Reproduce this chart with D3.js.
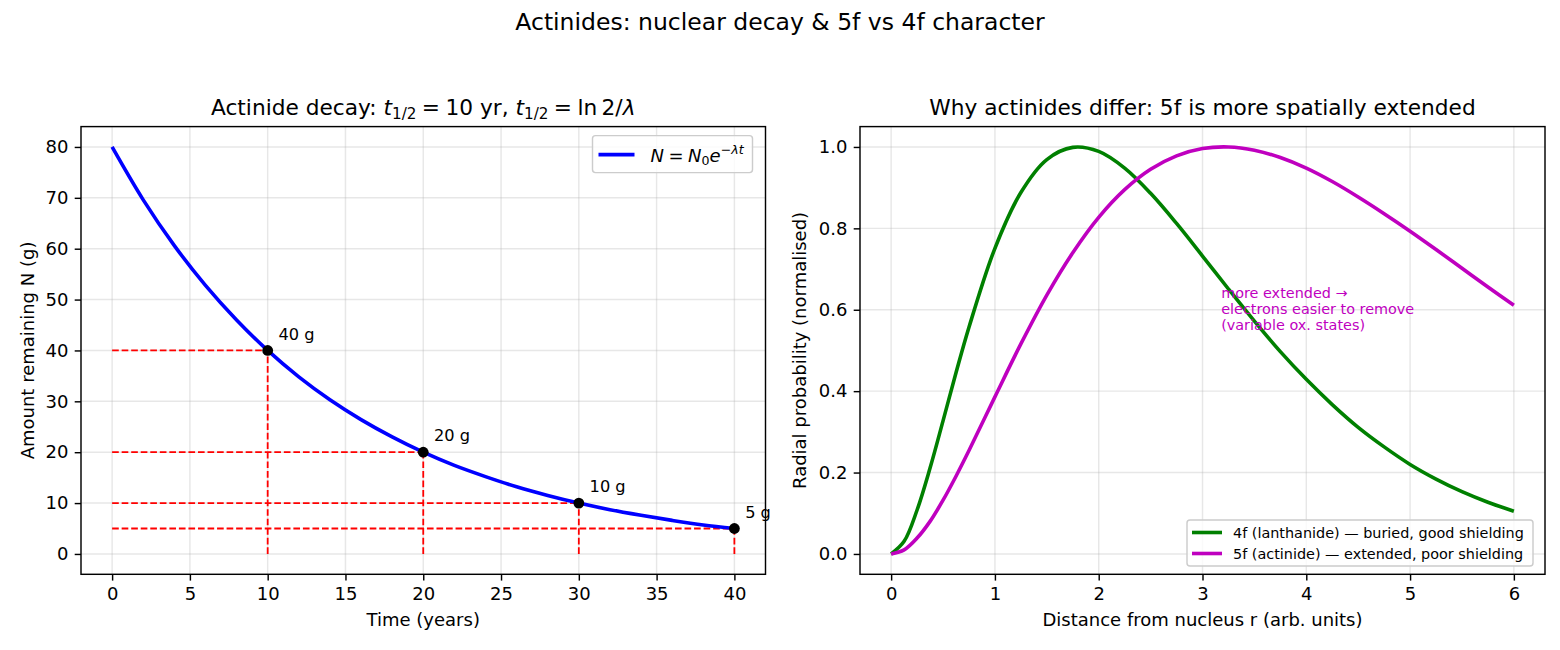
<!DOCTYPE html>
<html>
<head>
<meta charset="utf-8">
<script src="https://cdn.jsdelivr.net/npm/d3@7"></script>
<style>
  body { margin: 0; background: #fff; }
  svg { display: block; font-family: "DejaVu Sans", sans-serif; }
  .tick text { font-size: 18px; fill: #000; }
</style>
</head>
<body>
<div id="chart"></div>
<script>
// ---- data ----
const decayYears = [0, 2, 4, 6, 8, 10, 12, 14, 16, 18, 20, 22, 24, 26, 28, 30, 32, 34, 36, 38, 40];
const decayGrams = [80, 69.6, 60.6, 52.8, 46.0, 40, 34.8, 30.3, 26.4, 23.0, 20, 17.4, 15.2, 13.2, 11.5, 10, 8.7, 7.6, 6.6, 5.7, 5];
const halfYears = [10, 20, 30, 40];
const halfGrams = [40, 20, 10, 5];
const halfLabels = ["40 g", "20 g", "10 g", "5 g"];
const decayXTicks = [0, 5, 10, 15, 20, 25, 30, 35, 40];
const decayYTicks = [0, 10, 20, 30, 40, 50, 60, 70, 80];

const radius = [0, 0.125, 0.25, 0.375, 0.5, 0.625, 0.75, 1, 1.25, 1.5, 1.75, 2, 2.25, 2.5, 2.75, 3, 3.25, 3.5, 3.75, 4, 4.25, 4.5, 4.75, 5, 5.25, 5.5, 5.75, 6];
const prob4f = [0, 0.031, 0.108, 0.211, 0.327, 0.445, 0.557, 0.751, 0.888, 0.969, 0.999, 0.989, 0.948, 0.886, 0.812, 0.732, 0.651, 0.572, 0.497, 0.429, 0.367, 0.311, 0.263, 0.220, 0.184, 0.153, 0.127, 0.105];
const prob5f = [0, 0.010, 0.039, 0.080, 0.132, 0.191, 0.254, 0.386, 0.516, 0.636, 0.740, 0.827, 0.895, 0.945, 0.978, 0.996, 1.000, 0.992, 0.974, 0.948, 0.915, 0.877, 0.836, 0.793, 0.748, 0.702, 0.656, 0.611];
const radialXTicks = [0, 1, 2, 3, 4, 5, 6];
const radialYTicks = [0, 0.2, 0.4, 0.6, 0.8, 1.0];
const radialSeries = [
  { label: "4f (lanthanide) \u2014 buried, good shielding", values: prob4f, color: "#008000" },
  { label: "5f (actinide) \u2014 extended, poor shielding", values: prob5f, color: "#bf00bf" }
];
const noteLines = ["more extended \u2192", "electrons easier to remove", "(variable ox. states)"];

// ---- layout ----
const width = 1560;
const height = 650;
const plotTop = 126.6, plotBottom = 574.3;
const leftPanel = { x0: 81, x1: 765.5 };
const rightPanel = { x0: 860, x1: 1545 };
const tickLen = 6.3;
const gridColor = "#b0b0b0";

const svg = d3.select("#chart").append("svg")
  .attr("width", width).attr("height", height)
  .attr("viewBox", `0 0 ${width} ${height}`);

// mathtext-ish helper: segments of {t, i (italic), sub, sup}
function mathText(sel, segs) {
  let shift = 0;
  const fs = parseFloat(sel.attr("font-size"));
  segs.forEach(s => {
    let target = 0;
    if (s.sub) target = 0.2 * fs;
    if (s.sup) target = -0.4 * fs;
    const ts = sel.append("tspan").text(s.t);
    if (target !== shift) { ts.attr("dy", target - shift); shift = target; }
    if (s.i) ts.attr("font-style", "italic");
    if (s.sub || s.sup) ts.attr("font-size", fs * 0.7);
  });
}

// light grid behind everything
function drawGrid(g, x, y, xTicks, yTicks) {
  g.append("g").selectAll("line").data(xTicks).join("line")
    .attr("x1", d => x(d)).attr("x2", d => x(d))
    .attr("y1", plotTop).attr("y2", plotBottom)
    .attr("stroke", gridColor).attr("stroke-opacity", 0.3).attr("stroke-width", 1.44);
  g.append("g").selectAll("line").data(yTicks).join("line")
    .attr("y1", d => y(d)).attr("y2", d => y(d))
    .attr("x1", x.range()[0]).attr("x2", x.range()[1])
    .attr("stroke", gridColor).attr("stroke-opacity", 0.3).attr("stroke-width", 1.44);
}

// spines + ticks
function drawFrame(g, x, y, xTicks, yTicks, yFmt) {
  const [l, r] = x.range();
  g.append("rect")
    .attr("x", l).attr("y", plotTop).attr("width", r - l).attr("height", plotBottom - plotTop)
    .attr("fill", "none").attr("stroke", "#000").attr("stroke-width", 1.44);

  const xa = g.append("g").attr("transform", `translate(0,${plotBottom})`)
    .call(d3.axisBottom(x).tickValues(xTicks).tickSize(tickLen).tickPadding(6.3).tickFormat(d3.format("d")));
  const ya = g.append("g").attr("transform", `translate(${l},0)`)
    .call(d3.axisLeft(y).tickValues(yTicks).tickSize(tickLen).tickPadding(6.3).tickFormat(yFmt));
  [xa, ya].forEach(a => {
    a.select(".domain").remove();
    a.selectAll(".tick line").attr("stroke", "#000").attr("stroke-width", 1.44);
    a.attr("font-family", null).attr("font-size", null);
  });
}

// ---- suptitle ----
svg.append("text")
  .attr("x", width / 2).attr("y", 30)
  .attr("text-anchor", "middle").attr("font-size", 23.5)
  .text("Actinides: nuclear decay & 5f vs 4f character");

// ---- left panel: decay ----
const x1 = d3.scaleLinear().domain([-2, 42]).range([leftPanel.x0, leftPanel.x1]);
const y1 = d3.scaleLinear().domain([-4, 84]).range([plotBottom, plotTop]);
const gL = svg.append("g");
drawGrid(gL, x1, y1, decayXTicks, decayYTicks);

// dashed guide lines
const guides = gL.append("g").attr("stroke", "#ff0000").attr("stroke-width", 1.8)
  .attr("stroke-dasharray", "6.66,2.88").attr("fill", "none");
halfYears.forEach((t, i) => {
  guides.append("line")
    .attr("x1", x1(0)).attr("x2", x1(t))
    .attr("y1", y1(halfGrams[i])).attr("y2", y1(halfGrams[i]));
  guides.append("line")
    .attr("x1", x1(t)).attr("x2", x1(t))
    .attr("y1", y1(0)).attr("y2", y1(halfGrams[i]));
});

const decayLine = d3.line()
  .x((d, i) => x1(decayYears[i]))
  .y(d => y1(d))
  .curve(d3.curveCatmullRom.alpha(0.5));
gL.append("path").datum(decayGrams)
  .attr("d", decayLine)
  .attr("fill", "none").attr("stroke", "#0000ff").attr("stroke-width", 3.6);

gL.append("g").selectAll("circle").data(halfYears).join("circle")
  .attr("cx", d => x1(d)).attr("cy", (d, i) => y1(halfGrams[i]))
  .attr("r", 5.4).attr("fill", "#000");

gL.append("g").selectAll("text").data(halfLabels).join("text")
  .attr("x", (d, i) => x1(halfYears[i]) + 10.8)
  .attr("y", (d, i) => y1(halfGrams[i]) - 10.8)
  .attr("font-size", 16.2)
  .text(d => d);

drawFrame(gL, x1, y1, decayXTicks, decayYTicks, d3.format("d"));

// title with math
mathText(gL.append("text")
  .attr("x", (leftPanel.x0 + leftPanel.x1) / 2).attr("y", 115)
  .attr("text-anchor", "middle").attr("font-size", 21.7), [
  { t: "Actinide decay: " },
  { t: "t", i: true }, { t: "1/2", sub: true },
  { t: "\u2005=\u200510 yr, " },
  { t: "t", i: true }, { t: "1/2", sub: true },
  { t: "\u2005=\u2005ln\u20092/" },
  { t: "\u03bb", i: true }
]);

gL.append("text")
  .attr("x", (leftPanel.x0 + leftPanel.x1) / 2).attr("y", 626)
  .attr("text-anchor", "middle").attr("font-size", 18)
  .text("Time (years)");
gL.append("text")
  .attr("transform", `translate(34,${(plotTop + plotBottom) / 2}) rotate(-90)`)
  .attr("text-anchor", "middle").attr("font-size", 18)
  .text("Amount remaining N (g)");

// legend
const legL = gL.append("g").attr("transform", `translate(${leftPanel.x1 - 173},${plotTop + 9})`);
legL.append("rect")
  .attr("width", 160).attr("height", 37).attr("rx", 3)
  .attr("fill", "#fff").attr("fill-opacity", 0.8)
  .attr("stroke", "#cccccc").attr("stroke-width", 1.44);
legL.append("line")
  .attr("x1", 6).attr("x2", 42).attr("y1", 19).attr("y2", 19)
  .attr("stroke", "#0000ff").attr("stroke-width", 3.6);
mathText(legL.append("text").attr("x", 58).attr("y", 26).attr("font-size", 18), [
  { t: "N", i: true }, { t: "\u2005=\u2005" }, { t: "N", i: true },
  { t: "0", sub: true }, { t: "e", i: true }, { t: "\u2212\u03bbt", sup: true, i: true }
]);

// ---- right panel: radial probability ----
const x2 = d3.scaleLinear().domain([-0.3, 6.3]).range([rightPanel.x0, rightPanel.x1]);
const y2 = d3.scaleLinear().domain([-0.05, 1.05]).range([plotBottom, plotTop]);
const gR = svg.append("g");
drawGrid(gR, x2, y2, radialXTicks, radialYTicks);

const radialLine = d3.line()
  .x((d, i) => x2(radius[i]))
  .y(d => y2(d))
  .curve(d3.curveCatmullRom.alpha(0.5));
gR.append("g").selectAll("path").data(radialSeries).join("path")
  .attr("d", d => radialLine(d.values))
  .attr("fill", "none").attr("stroke", d => d.color).attr("stroke-width", 3.6);

gR.append("text")
  .attr("font-size", 14.4).attr("fill", "#bf00bf")
  .selectAll("tspan").data(noteLines).join("tspan")
  .attr("x", x2(3.18)).attr("y", (d, i) => y2(0.55) - 32 + i * 16)
  .text(d => d);

drawFrame(gR, x2, y2, radialXTicks, radialYTicks, d3.format(".1f"));

gR.append("text")
  .attr("x", (rightPanel.x0 + rightPanel.x1) / 2).attr("y", 115)
  .attr("text-anchor", "middle").attr("font-size", 21.7)
  .text("Why actinides differ: 5f is more spatially extended");
gR.append("text")
  .attr("x", (rightPanel.x0 + rightPanel.x1) / 2).attr("y", 626)
  .attr("text-anchor", "middle").attr("font-size", 18)
  .text("Distance from nucleus r (arb. units)");
gR.append("text")
  .attr("transform", `translate(806,${(plotTop + plotBottom) / 2}) rotate(-90)`)
  .attr("text-anchor", "middle").attr("font-size", 18)
  .text("Radial probability (normalised)");

// legend
const legR = gR.append("g").attr("transform", `translate(1187,520)`);
legR.append("rect")
  .attr("width", 346).attr("height", 46).attr("rx", 3)
  .attr("fill", "#fff").attr("fill-opacity", 0.8)
  .attr("stroke", "#cccccc").attr("stroke-width", 1.44);
const rows = legR.selectAll("g.row").data(radialSeries).join("g")
  .attr("transform", (d, i) => `translate(0,${12.5 + i * 21})`);
rows.append("line")
  .attr("x1", 5).attr("x2", 35).attr("y1", 0).attr("y2", 0)
  .attr("stroke", d => d.color).attr("stroke-width", 3.6);
rows.append("text")
  .attr("x", 46).attr("y", 5).attr("font-size", 14.4)
  .text(d => d.label);
</script>
</body>
</html>
